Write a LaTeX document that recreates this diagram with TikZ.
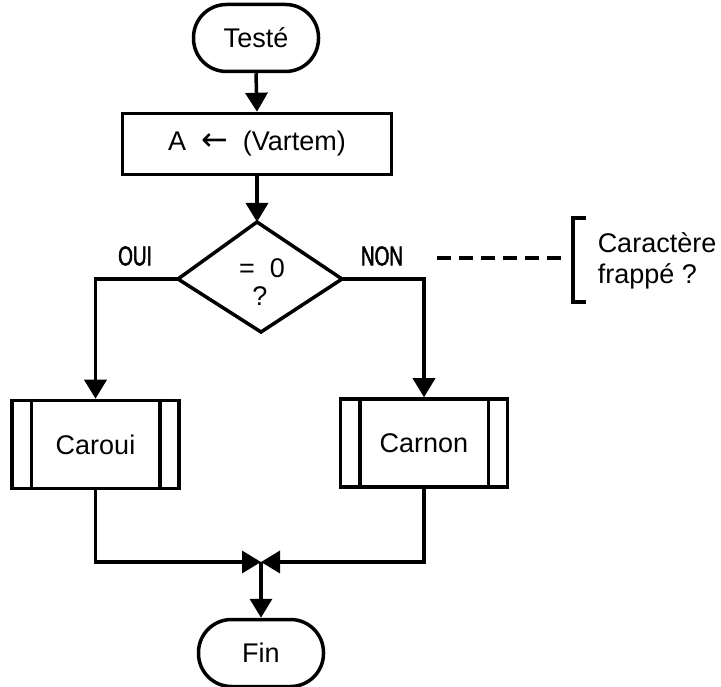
\documentclass[tikz,border=0pt]{standalone}
\usepackage{fontspec}
\setmainfont{Liberation Sans}
\newfontfamily\narrowfont[FakeStretch=0.7,FakeBold=2]{Liberation Sans}
\newfontfamily\symfont{DejaVu Sans}
\usetikzlibrary{arrows.meta}
\begin{document}
\begin{tikzpicture}[x=1pt,y=-1pt,
  line width=3.5pt,
  txt/.style={font=\fontsize{27}{31}\selectfont},
  terminal/.style={draw,txt,rectangle,rounded corners=33pt,minimum width=125pt,minimum height=67pt,inner sep=0pt},
  process/.style={draw,txt,rectangle,minimum width=269pt,minimum height=61pt,inner sep=0pt},
  subproc/.style={draw,txt,rectangle,minimum width=167pt,minimum height=88pt,inner sep=0pt},
  decision/.style={draw,line join=miter},
  branch/.style={font=\narrowfont\fontsize{27}{30}\selectfont},
  flow/.style={-{Triangle[width=22pt,length=19pt]}}
]
\useasboundingbox (0,0) rectangle (721,687);

% terminals and process boxes
\node[terminal] (test) at (256,38) {Testé};
\node[process] (assign) at (257,144) {A\ \ {\symfont\fontsize{32}{34}\selectfont ←}\ \ (Vartem)};

% decision diamond
\coordinate (dtop) at (257,222);
\coordinate (dleft) at (178,279);
\coordinate (dright) at (342,279);
\coordinate (dbot) at (261,332);
\draw[decision] (dtop) -- (dright) -- (dbot) -- (dleft) -- cycle;
\node[txt] (eq) at (262,268) {=\ \ 0};
\node[txt] (q) at (260,296) {?};

\node[branch] (oui) at (135,256) {OUI};
\node[branch] (non) at (382,256) {NON};

% subroutine boxes
\node[subproc] (caroui) at (95.5,444.5) {Caroui};
\node[subproc] (carnon) at (424,443) {Carnon};
\foreach \b in {caroui,carnon}{
  \draw ([xshift=21pt]\b.north west) -- ([xshift=21pt]\b.south west);
  \draw ([xshift=-21pt]\b.north east) -- ([xshift=-21pt]\b.south east);
}

\node[terminal] (fin) at (261,653) {Fin};

% connectors
\draw[flow] (test.south) -- (assign.north);
\draw[flow] (assign.south) -- (dtop);
\draw[flow] (dleft) -| (caroui.north);
\draw[flow] (dright) -| (carnon.north);
\coordinate (join) at (261,562);
\draw[flow] (caroui.south) |- (join);
\draw[flow] (carnon.south) |- (join);
\draw[flow] (join) -- (fin.north);

% annotation
\coordinate (dashA) at (437,258);
\coordinate (dashB) at (565,258);
\draw[dash pattern=on 14pt off 8pt] (dashA) -- (dashB);
\draw[line cap=butt] (586,218) -- (573,218) -- (573,302) -- (586,302);
\node[txt,anchor=west,align=left,inner sep=0pt] (note) at (596,261) {Caractère\\frappé ?};
\end{tikzpicture}
\end{document}
